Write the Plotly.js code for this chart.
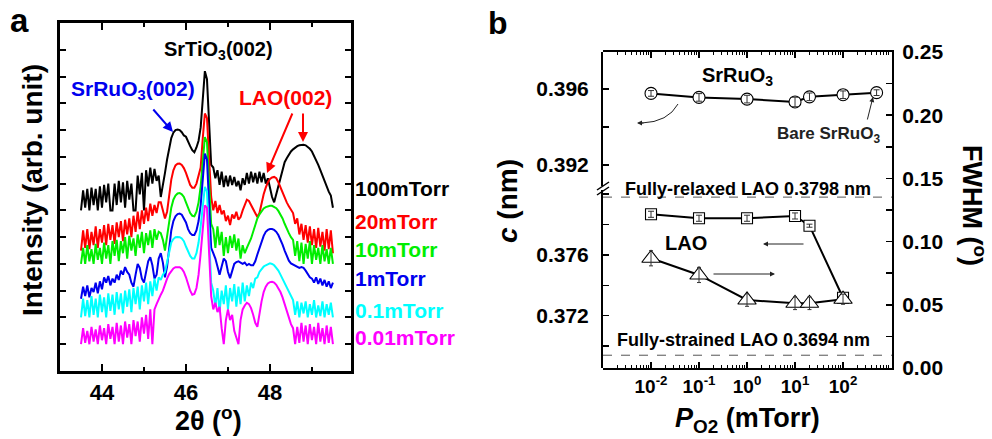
<!DOCTYPE html>
<html><head><meta charset="utf-8">
<script src="https://cdn.plot.ly/plotly-3.0.1.min.js"></script>
<style>html,body{margin:0;padding:0;background:#fff;}#chart{width:992px;height:439px;}</style>
</head><body><div id="chart"></div>
<script>
// ---------- Panel a : XRD 2theta scans (log intensity, offset, arb. units) ----------
const twoTheta = [43.50,43.55,43.60,43.65,43.70,43.75,43.80,43.85,43.90,43.95,
44.00,44.05,44.10,44.15,44.20,44.25,44.30,44.35,44.40,44.45,
44.50,44.55,44.60,44.65,44.70,44.75,44.80,44.85,44.90,44.95,
45.00,45.05,45.10,45.15,45.20,45.25,45.30,45.35,45.40,45.45,
45.50,45.55,45.60,45.65,45.70,45.75,45.80,45.85,45.90,45.95,
46.00,46.05,46.10,46.15,46.20,46.25,46.30,46.35,46.40,46.45,
46.50,46.55,46.60,46.65,46.70,46.75,46.80,46.85,46.90,46.95,
47.00,47.05,47.10,47.15,47.20,47.25,47.30,47.35,47.40,47.45,
47.50,47.55,47.60,47.65,47.70,47.75,47.80,47.85,47.90,47.95,
48.00,48.05,48.10,48.15,48.20,48.25,48.30,48.35,48.40,48.45,
48.50,48.55,48.60,48.65,48.70,48.75,48.80,48.85,48.90,48.95,
49.00,49.05,49.10,49.15,49.20,49.25,49.30,49.35,49.40,49.45,49.50];

const int100mTorr = [6.0,6.75,6.1,6.8,6.0,6.85,6.2,6.8,6.0,6.9,
6.1,6.95,6.3,7.0,6.0,6.0,7.0,6.2,7.1,6.3,
7.05,6.1,7.1,6.4,7.0,6.0,6.0,7.3,6.6,7.4,
6.0,7.5,6.9,7.6,7.0,7.55,7.1,7.3,6.5,6.9,
7.4,7.9,8.35,8.7,8.9,9.0,9.02,9.0,8.92,8.8,
8.75,8.55,8.4,8.25,8.17,8.35,8.6,9.1,10.0,11.2,
10.9,9.0,7.7,7.6,7.2,7.5,6.95,7.45,6.87,7.3,
6.9,7.3,6.95,7.25,6.9,7.1,6.75,7.2,6.95,7.4,
7.0,7.45,7.05,7.4,7.0,7.45,7.05,7.4,7.0,7.2,
6.8,6.5,6.3,6.6,6.9,7.3,7.6,7.8,7.95,8.1,
8.2,8.28,8.35,8.4,8.43,8.45,8.45,8.43,8.38,8.3,
8.2,8.05,7.9,7.7,7.5,7.3,7.05,6.85,6.7,6.55,6.1];

const int20mTorr = [4.5,5.25,4.6,5.3,4.55,5.2,4.7,5.4,4.6,5.3,
4.8,5.45,4.7,5.5,4.9,5.45,4.75,5.55,5.0,5.6,
4.85,5.65,5.1,5.7,5.0,5.8,5.2,5.95,5.3,6.0,
5.5,6.1,5.6,6.25,5.8,6.2,5.9,6.3,6.3,6.0,
5.7,5.95,6.6,7.15,7.5,7.68,7.74,7.75,7.7,7.58,
7.4,7.15,6.95,6.85,6.85,7.0,7.3,7.6,8.7,9.62,
9.45,7.8,6.5,6.0,6.35,5.9,6.2,5.85,6.0,5.6,
5.8,5.45,5.85,5.7,5.95,5.65,5.75,6.0,6.2,6.4,
6.35,6.2,6.0,5.85,5.75,5.9,6.3,6.6,6.85,7.05,
7.17,7.23,7.25,7.2,7.05,6.85,6.65,6.45,6.3,6.15,
6.0,5.9,5.5,5.7,5.1,5.5,4.9,5.45,4.8,5.4,
4.7,5.3,4.6,5.35,4.65,5.2,4.5,5.3,4.55,5.25,4.4];

const int10mTorr = [4.0,4.6,4.0,4.7,4.1,4.55,4.0,4.75,4.15,4.6,
4.0,4.8,4.2,4.7,4.0,4.85,4.3,4.9,4.1,4.85,
4.4,5.0,4.2,5.05,4.5,4.95,4.3,5.1,4.6,5.2,
4.4,5.15,4.7,5.25,4.6,5.3,4.9,5.2,5.15,4.9,
4.5,5.0,5.6,6.1,6.4,6.55,6.63,6.65,6.6,6.5,
6.3,6.1,5.9,5.8,5.78,5.95,6.3,6.9,7.8,8.74,
8.55,6.8,5.5,5.3,4.6,5.4,4.7,5.2,4.3,5.0,
4.4,5.05,4.6,5.1,4.5,4.95,4.2,4.7,4.4,4.6,
4.75,4.95,5.2,5.45,5.7,5.85,5.98,6.07,6.12,6.15,
6.17,6.17,6.14,6.08,5.98,5.85,5.7,5.5,5.3,5.15,
5.0,4.9,4.3,4.85,4.1,4.8,4.0,4.75,4.2,4.85,
4.0,4.7,4.15,4.6,4.0,4.7,4.1,4.55,4.0,4.6,4.0];

const int1mTorr = [2.7,3.15,2.8,3.2,2.75,3.1,2.95,3.3,2.9,3.35,
3.05,3.5,3.3,3.55,3.2,3.45,3.3,3.6,3.4,3.75,
3.6,3.88,3.7,3.6,3.3,3.15,3.6,4.0,3.85,3.45,
3.3,3.7,4.1,4.25,3.95,3.45,3.6,4.2,4.4,4.05,
3.5,3.9,4.7,5.25,5.6,5.78,5.86,5.88,5.84,5.72,
5.55,5.3,5.15,5.08,5.08,5.25,5.6,6.2,7.2,8.12,
7.9,6.0,4.6,4.4,4.2,3.9,3.6,3.9,4.2,4.1,
3.7,3.47,3.7,4.0,4.07,4.1,4.05,4.0,4.05,3.95,
4.0,3.95,3.95,4.1,4.35,4.6,4.85,5.05,5.2,5.27,
5.3,5.3,5.27,5.2,5.08,4.92,4.72,4.5,4.3,4.12,
4.02,3.98,3.95,3.9,3.85,3.88,3.85,3.75,3.6,3.5,
3.45,3.3,3.5,3.25,3.45,3.2,3.4,3.15,3.35,3.1,3.3];

const int01mTorr = [2.0,2.7,2.05,2.65,2.0,2.8,2.1,2.7,2.0,2.85,
2.2,2.75,2.0,2.9,2.25,2.85,2.1,2.95,2.3,2.9,
2.15,3.0,2.4,3.05,2.2,3.1,2.5,3.15,2.3,3.2,
2.6,3.3,2.5,3.35,2.8,3.45,3.0,3.5,3.4,3.6,
3.7,4.1,4.5,4.8,4.93,5.0,5.01,5.0,4.95,4.85,
4.65,4.45,4.3,4.2,4.2,4.4,4.8,5.4,6.2,6.88,
6.7,5.0,3.3,3.0,2.4,3.1,2.2,3.0,2.5,3.2,
2.3,3.1,2.6,3.25,2.4,3.15,2.5,3.3,2.6,3.2,
2.8,3.3,3.1,3.45,3.5,3.7,3.8,3.9,3.95,4.0,
4.02,4.0,3.95,3.85,3.75,3.6,3.45,3.3,3.1,2.95,
2.8,2.65,2.1,2.6,2.0,2.55,2.15,2.6,2.0,2.5,
2.1,2.65,2.0,2.45,2.05,2.6,2.0,2.5,2.1,2.55,2.0];

const int001mTorr = [1.0,1.6,1.05,1.5,1.0,1.65,1.1,1.55,1.0,1.7,
1.15,1.6,1.0,1.75,1.2,1.65,1.0,1.8,1.1,1.7,
1.0,1.85,1.25,1.75,1.0,1.9,1.3,1.85,1.1,2.0,
1.4,2.1,1.2,2.3,1.0,2.3,2.5,2.7,2.85,3.0,
3.25,3.45,3.62,3.75,3.83,3.88,3.89,3.88,3.82,3.7,
3.5,3.25,3.0,2.85,2.88,3.1,3.6,4.4,5.4,6.19,
6.1,4.3,2.8,2.3,2.55,2.2,2.4,1.6,1.0,1.9,
2.3,1.9,2.1,1.5,1.2,1.0,1.9,2.3,2.45,2.55,
2.5,2.35,2.1,1.8,1.65,2.2,2.6,2.95,3.15,3.27,
3.32,3.33,3.3,3.22,3.1,2.95,2.75,2.5,2.25,2.0,
1.75,1.6,1.0,1.65,1.05,1.8,1.1,1.7,1.0,1.75,
1.15,1.65,1.0,1.8,1.1,1.6,1.0,1.7,1.05,1.65,1.0];

const seriesNames = ['100mTorr','20mTorr','10mTorr','1mTorr','0.1mTorr','0.01mTorr'];
const seriesColors = ['#000000','#ff0000','#00ee00','#0000ee','#00ffff','#ff00ff'];
const seriesData = [int100mTorr,int20mTorr,int10mTorr,int1mTorr,int01mTorr,int001mTorr];
const xTicksA = [44,46,48];

// ---------- Panel b : lattice parameter c and FWHM vs P_O2 ----------
const srP = [0.01,0.1,1,10,20,100,500];           // last = bare SrRuO3
const srC = [0.39577,0.39556,0.39547,0.39532,0.39559,0.39570,0.39581];
const srCErr = [0.00015,0.0002,0.0002,0.00025,0.0002,0.0002,0.00015];
const laoP = [0.01,0.1,1,10,20,100];
const laoC = [0.37867,0.37841,0.37841,0.37856,0.37792,0.37318];
const laoCErr = [0.0002,0.0002,0.0002,0.0002,0.0001,0.0001];
const laoFWHM = [0.0868,0.0736,0.0538,0.0512,0.0512,0.0544];
const laoFWHMErr = [0.006,0.006,0.005,0.005,0.005,0.004];
const refLines = [0.3798,0.3694];
const xTickValsB = [0.01,0.1,1,10,100];
const xTickTextB = ['10<sup>-2</sup>','10<sup>-1</sup>','10<sup>0</sup>','10<sup>1</sup>','10<sup>2</sup>'];

// ---------- helpers ----------
const X = p => p/992;
const Y = p => 1 - p/439;
const FONT = 'Liberation Sans, Arial, Helvetica, sans-serif';

const traces = [];
seriesData.forEach((d,k)=>{
  traces.push({x:twoTheta, y:d, xaxis:'x', yaxis:'y', mode:'lines', name:seriesNames[k],
    line:{color:seriesColors[k], width:2}, hoverinfo:'skip'});
});

const mk = (sym,size)=>({symbol:sym, size:size, color:'#ffffff', line:{color:'#000', width:1.1}});
traces.push({x:srP, y:srC, xaxis:'x2', yaxis:'y3', mode:'lines+markers', line:{color:'#000',width:2}, marker:mk('circle',12)});
traces.push({x:laoP, y:laoC, xaxis:'x2', yaxis:'y2', mode:'lines+markers', line:{color:'#000',width:2}, marker:mk('square',11)});
traces.push({x:laoP, y:laoFWHM, xaxis:'x2', yaxis:'y4', mode:'lines+markers', line:{color:'#000',width:2}, marker:mk('triangle-up',16)});
const eb = (x,y,e,ya,w)=>({x:x, y:y, xaxis:'x2', yaxis:ya, mode:'markers', marker:{size:1,color:'rgba(0,0,0,0)'},
  error_y:{type:'data', array:e, visible:true, color:'#333', thickness:1, width:w}, hoverinfo:'skip'});
traces.push(eb(srP,srC,srCErr,'y3',3));
traces.push(eb(laoP,laoC,laoCErr,'y2',3));
traces.push(eb(laoP,laoFWHM,laoFWHMErr,'y4',2));

const minorB = [];
for (let e=-3;e<=2;e++) for (let m=2;m<=9;m++) minorB.push(m*Math.pow(10,e));

const tickFont = {family:FONT, size:21, color:'#000', weight:700};
const minorY = vals => ({tickmode:'array', tickvals:vals, ticks:'inside', ticklen:6, tickwidth:1.5, tickcolor:'#000', showgrid:false});

const layout = {
  width:992, height:439, margin:{l:0,r:0,t:0,b:0}, autosize:false,
  paper_bgcolor:'#ffffff', plot_bgcolor:'rgba(0,0,0,0)', showlegend:false,
  font:{family:FONT, color:'#000', weight:700},
  xaxis:{domain:[X(60),X(351)], anchor:'y', range:[43.0,49.93], tickvals:xTicksA, ticks:'inside',
    ticklen:7, tickwidth:2, tickcolor:'#000', showline:true, linewidth:3, linecolor:'#000', mirror:'ticks',
    showgrid:false, zeroline:false, tickfont:{family:FONT,size:22,color:'#000',weight:700},
    minor:{tickmode:'array', tickvals:[45,47,49], ticks:'inside', ticklen:4, tickwidth:2, tickcolor:'#000', showgrid:false}},
  yaxis:{domain:[Y(371),Y(23)], anchor:'x', range:[0,13], dtick:1, tick0:0, showticklabels:false,
    ticks:'inside', ticklen:6, tickwidth:2, tickcolor:'#000', showline:true, linewidth:3, linecolor:'#000',
    mirror:'ticks', showgrid:false, zeroline:false},
  xaxis2:{domain:[X(603),X(892)], anchor:'y4', type:'log', range:[-3,3.02], tickmode:'array',
    tickvals:xTickValsB, ticktext:xTickTextB, ticks:'inside', ticklen:6, tickwidth:1.5, tickcolor:'#000',
    showline:true, linewidth:2, linecolor:'#000', mirror:'ticks', showgrid:false, zeroline:false,
    tickfont:{family:FONT,size:19,color:'#000',weight:700},
    minor:{tickmode:'array', tickvals:minorB, ticks:'inside', ticklen:3, tickwidth:1, tickcolor:'#000', showgrid:false}},
  yaxis2:{domain:[Y(368),Y(188)], anchor:'x2', range:[0.36856,0.38040], tickmode:'array',
    tickvals:[0.372,0.376], ticktext:['0.372','0.376'], minor:minorY([0.370,0.374,0.378,0.380]),
    ticks:'inside', ticklen:6, tickwidth:1.5, tickcolor:'#000', showline:true, linewidth:2, linecolor:'#000',
    showgrid:false, zeroline:false, tickfont:tickFont, ticklabelstandoff:8},
  yaxis3:{domain:[Y(188),Y(52)], anchor:'x2', range:[0.39079,0.39795], tickmode:'array',
    tickvals:[0.392,0.396], ticktext:['0.392','0.396'], minor:minorY([0.394]),
    ticks:'inside', ticklen:6, tickwidth:1.5, tickcolor:'#000', showline:true, linewidth:2, linecolor:'#000',
    showgrid:false, zeroline:false, tickfont:tickFont, ticklabelstandoff:8},
  yaxis4:{domain:[Y(368),Y(52)], anchor:'x2', side:'right', range:[0,0.25], tickmode:'array',
    tickvals:[0,0.05,0.1,0.15,0.2,0.25], ticktext:['0.00','0.05','0.10','0.15','0.20','0.25'],
    minor:minorY([0.025,0.075,0.125,0.175,0.225]),
    ticks:'inside', ticklen:6, tickwidth:1.5, tickcolor:'#000', showline:true, linewidth:2, linecolor:'#000',
    showgrid:false, zeroline:false, tickfont:tickFont, ticklabelstandoff:4},
  shapes:[],
  annotations:[]
};

refLines.forEach(v=>layout.shapes.push({type:'line', xref:'x2 domain', x0:0, x1:1, yref:'y2', y0:v, y1:v,
  line:{color:'#555', width:1, dash:'dash'}}));
layout.shapes.push({type:'rect', xref:'paper', yref:'paper', x0:X(600), x1:X(607), y0:Y(190), y1:Y(186),
  fillcolor:'#fff', line:{width:0}});
layout.shapes.push({type:'line', xref:'paper', yref:'paper', x0:X(597), y0:Y(190), x1:X(609), y1:Y(182), line:{color:'#000',width:1.5}});
layout.shapes.push({type:'line', xref:'paper', yref:'paper', x0:X(597), y0:Y(195), x1:X(609), y1:Y(187), line:{color:'#000',width:1.5}});
layout.shapes.push({type:'path', xref:'paper', yref:'paper',
  path:`M ${X(678)} ${Y(104)} Q ${X(668)} ${Y(122)} ${X(642)} ${Y(123)}`, line:{color:'#222', width:1}});

const A = (t,x,y,o={})=>Object.assign({text:t, x:X(x), y:Y(y), xref:'paper', yref:'paper', showarrow:false,
  xanchor:'center', yanchor:'middle', font:{family:FONT,size:20,color:'#000',weight:700}}, o);
const ARR = (hx,hy,tx,ty,col,w,head)=>({text:'', x:X(hx), y:Y(hy), xref:'paper', yref:'paper', showarrow:true,
  ax:tx-hx, ay:ty-hy, arrowcolor:col, arrowwidth:w, arrowhead:head, arrowsize:1, standoff:0, startstandoff:0});

const ann = layout.annotations;
ann.push(A('a',19,21,{font:{family:FONT,size:33,color:'#000',weight:700}}));
ann.push(A('SrTiO<sub>3</sub>(002)',218,50,{font:{family:FONT,size:20,color:'#000',weight:700}}));
ann.push(A('SrRuO<sub>3</sub>(002)',133,90,{font:{family:FONT,size:21,color:'#0000ee',weight:700}}));
ann.push(A('LAO(002)',285,97,{font:{family:FONT,size:21,color:'#ff0000',weight:700}}));
ann.push(ARR(173,132,152,108,'#0000ee',2,2));
ann.push(ARR(267,173,293,112,'#ff0000',2,2));
ann.push(ARR(303,142,303,112,'#ff0000',2,2));
const labelY = [188,221,249,278,310,337];
seriesNames.forEach((n,k)=>ann.push(A(n,353,labelY[k],{xanchor:'left',
  font:{family:FONT,size:21,color:seriesColors[k],weight:700}})));
ann.push(A('Intensity (arb. unit)',32,190,{textangle:-90,font:{family:FONT,size:28,color:'#000',weight:700}}));
ann.push(A('2θ (<sup>o</sup>)',208,419,{font:{family:FONT,size:27,color:'#000',weight:700}}));
ann.push(A('b',498,23,{font:{family:FONT,size:32,color:'#000',weight:700}}));
ann.push(A('<i>c</i> (nm)',507,201,{textangle:-90,font:{family:FONT,size:28,color:'#000',weight:700}}));
ann.push(A('FWHM (<sup>o</sup>)',974,205,{textangle:90,font:{family:FONT,size:27,color:'#000',weight:700}}));
ann.push(A('<i>P</i><sub>O2</sub> (mTorr)',747,420,{font:{family:FONT,size:27,color:'#000',weight:700}}));
ann.push(A('SrRuO<sub>3</sub>',737,77,{font:{family:FONT,size:20,color:'#000',weight:700}}));
ann.push(A('Bare SrRuO<sub>3</sub>',828,135,{font:{family:FONT,size:17,color:'#222',weight:700}}));
ann.push(A('Fully-relaxed LAO 0.3798 nm',748,189,{font:{family:FONT,size:18,color:'#000',weight:700}}));
ann.push(A('LAO',686,243,{font:{family:FONT,size:20,color:'#000',weight:700}}));
ann.push(A('Fully-strained LAO 0.3694 nm',743,340,{font:{family:FONT,size:18,color:'#000',weight:700}}));
ann.push(ARR(873,97,867,121,'#222',1,2));
ann.push(ARR(763,244,805,244,'#222',1,2));
ann.push(ARR(775,274,712,274,'#222',1,2));
ann.push(ARR(637,123,645,123,'#222',1,2));

Plotly.newPlot('chart', traces, layout, {staticPlot:true, displayModeBar:false});
</script>
</body></html>
